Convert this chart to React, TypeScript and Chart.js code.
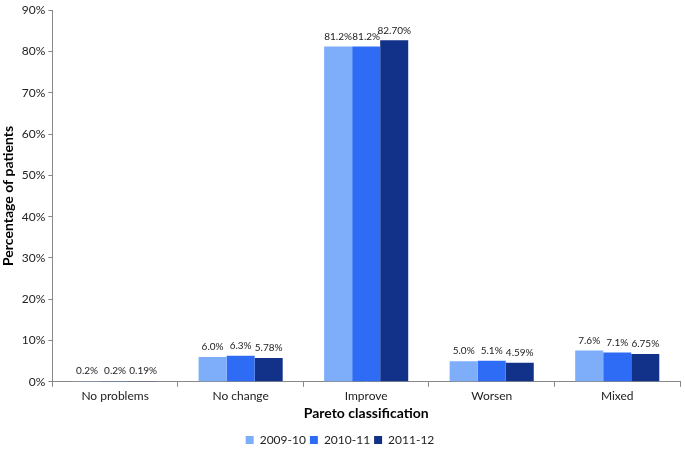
import React, { useEffect, useRef } from "react";
import { Chart, registerables } from "chart.js";

Chart.register(...registerables);

const categories = ["No problems", "No change", "Improve", "Worsen", "Mixed"];
const seriesNames = ["2009-10", "2010-11", "2011-12"];
const values2009 = [0.2, 6.0, 81.2, 5.0, 7.6];
const values2010 = [0.2, 6.3, 81.2, 5.1, 7.1];
const values2011 = [0.19, 5.78, 82.7, 4.59, 6.75];
const labels2009 = ["0.2%", "6.0%", "81.2%", "5.0%", "7.6%"];
const labels2010 = ["0.2%", "6.3%", "81.2%", "5.1%", "7.1%"];
const labels2011 = ["0.19%", "5.78%", "82.70%", "4.59%", "6.75%"];
const colors = ["#7EAEFA", "#2F6CF6", "#12328A"];

const FONT = "Lato, 'Open Sans', sans-serif";

const valueLabelPlugin = {
  id: "valueLabels",
  afterDatasetsDraw(chart: any) {
    const ctx = chart.ctx;
    const allLabels = [labels2009, labels2010, labels2011];
    ctx.save();
    ctx.font = `10px ${FONT}`;
    ctx.fillStyle = "#222";
    ctx.textAlign = "center";
    ctx.textBaseline = "bottom";
    chart.data.datasets.forEach((_: any, di: number) => {
      const meta = chart.getDatasetMeta(di);
      meta.data.forEach((bar: any, i: number) => {
        ctx.fillText(allLabels[di][i], bar.x, bar.y - 5);
      });
    });
    ctx.restore();
  },
};

export default function App() {
  const ref = useRef<HTMLCanvasElement>(null);
  useEffect(() => {
    document.body.style.margin = "0";
    const chart = new Chart(ref.current!, {
      type: "bar",
      data: {
        labels: categories,
        datasets: [values2009, values2010, values2011].map((d, i) => ({
          label: seriesNames[i],
          data: d,
          backgroundColor: colors[i],
          borderWidth: 0,
          barPercentage: 1,
          categoryPercentage: 0.67,
        })),
      },
      options: {
        animation: false,
        responsive: false,
        layout: { padding: { top: 3, right: 5, left: 0, bottom: -6 } },
        plugins: {
          legend: {
            position: "bottom",
            labels: {
              boxWidth: 8,
              boxHeight: 8,
              padding: 4,
              color: "#222",
              font: { family: FONT, size: 12 },
            },
          },
          tooltip: { enabled: false },
        },
        scales: {
          x: {
            grid: {
              drawOnChartArea: false,
              drawTicks: true,
              tickLength: 5,
              color: "#888",
            },
            border: { color: "#888", width: 1 },
            ticks: { color: "#222", font: { family: FONT, size: 12 }, padding: 2 },
            title: {
              display: true,
              text: "Pareto classification",
              color: "#000",
              font: { family: FONT, size: 14, weight: "bold" },
              padding: { top: 0, bottom: 8 },
            },
          },
          y: {
            min: 0,
            max: 90,
            ticks: {
              stepSize: 10,
              color: "#222",
              font: { family: FONT, size: 12 },
              callback: (v: any) => `${v}%`,
              padding: 3,
            },
            grid: {
              drawOnChartArea: false,
              drawTicks: true,
              tickLength: 4,
              color: "#888",
            },
            border: { color: "#888", width: 1 },
            title: {
              display: true,
              text: "Percentage of patients",
              color: "#000",
              font: { family: FONT, size: 14, weight: "bold" },
              padding: { top: 0, bottom: 2 },
            },
          },
        },
      },
      plugins: [valueLabelPlugin],
    });
    return () => chart.destroy();
  }, []);
  return <canvas ref={ref} width={685} height={450} style={{ display: "block" }} />;
}
